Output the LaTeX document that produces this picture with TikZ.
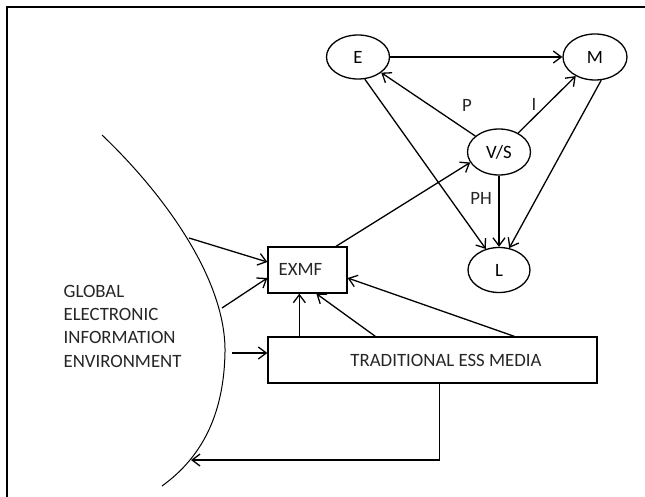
\documentclass[tikz,border=0pt]{standalone}
\usepackage{fontspec}
\setmainfont{Carlito}
\usetikzlibrary{shapes.geometric,arrows.meta}
\newcommand\figfont{\fontsize{18.8}{22}\selectfont}
\begin{document}
\begin{tikzpicture}[x=1pt,y=-1pt,
  line width=1.3pt,
  ell/.style={ellipse, draw, inner sep=0pt, font=\figfont},
  boxnode/.style={rectangle, draw, inner sep=0pt},
  lbl/.style={inner sep=0pt, font=\figfont, text=black!85},
  arr/.style={-{Straight Barb[length=8pt,width=12pt]}}
]
\useasboundingbox (0,0) rectangle (645,497);
\fill[white] (0,0) rectangle (645,497);
% frame
\draw[line width=2pt] (645,7) -- (7,7) -- (7,497);

% ellipses
\node[ell, minimum width=63pt, minimum height=44pt] (E) at (358,57) {E};
\node[ell, minimum width=64pt, minimum height=46pt] (M) at (595,57) {M};
\node[ell, minimum width=63pt, minimum height=46pt] (VS) at (499,152) {V/S};
\node[ell, minimum width=62pt, minimum height=45pt] (L) at (499,270) {L};

% boxes
\node[boxnode, minimum width=79pt, minimum height=46pt] (EXMF) at (307.5,270) {};
\node[lbl, anchor=base west] (exmflbl) at (278,275) {EXMF};
\node[boxnode, minimum width=329pt, minimum height=46pt] (TRAD) at (432.5,360) {};
\node[lbl, anchor=base] (tradlbl) at (446,366) {TRADITIONAL ESS MEDIA};

% left text
\node[lbl, anchor=base west] (g1) at (63,297) {GLOBAL};
\node[lbl, anchor=base west] (g2) at (63,320) {ELECTRONIC};
\node[lbl, anchor=base west] (g3) at (63,343) {INFORMATION};
\node[lbl, anchor=base west] (g4) at (63,367) {ENVIRONMENT};

% edge labels
\node[lbl] (lp) at (467,105) {P};
\node[lbl] (li) at (534,104) {I};
\node[lbl] (lph) at (481,198) {PH};

% curve
\draw[line width=1pt] (102,135) .. controls (165,195) and (226,280) .. (225,352)
                      .. controls (224,410) and (205,455) .. (162,486);
\coordinate (c1) at (189,238);
\coordinate (c2) at (222,308);
\coordinate (c3) at (232,353);
\coordinate (c4) at (191,460);

% triangle connectors
\draw[arr] (E.east) -- (M.west);
\draw[arr] (VS) -- (E);
\draw[arr] (VS) -- (M);
\draw[arr] (E.-73) -- (L.122);
\draw[arr] (M.-75) -- (L.65);
\draw[arr] (VS.south) -- (L.north);
\draw[arr] ([xshift=28.5pt]EXMF.north) -- (VS.200);

% from environment
\draw[arr] (c1) -- ([yshift=8pt]EXMF.west);
\draw[arr] (c2) -- ([yshift=-8pt]EXMF.west);
\draw[arr] (c3) -- ([yshift=7pt]TRAD.west);

% from traditional media
\draw[arr] ([xshift=32pt]TRAD.north west) -- ([xshift=32pt]EXMF.south west);
\draw[arr] ([xshift=108pt]TRAD.north west) -- ([xshift=49pt]EXMF.south west);
\draw[arr] ([xshift=247pt]TRAD.north west) -- ([yshift=-8pt]EXMF.east);
\draw[arr] ([xshift=172pt]TRAD.south west) |- (c4);
\end{tikzpicture}
\end{document}
